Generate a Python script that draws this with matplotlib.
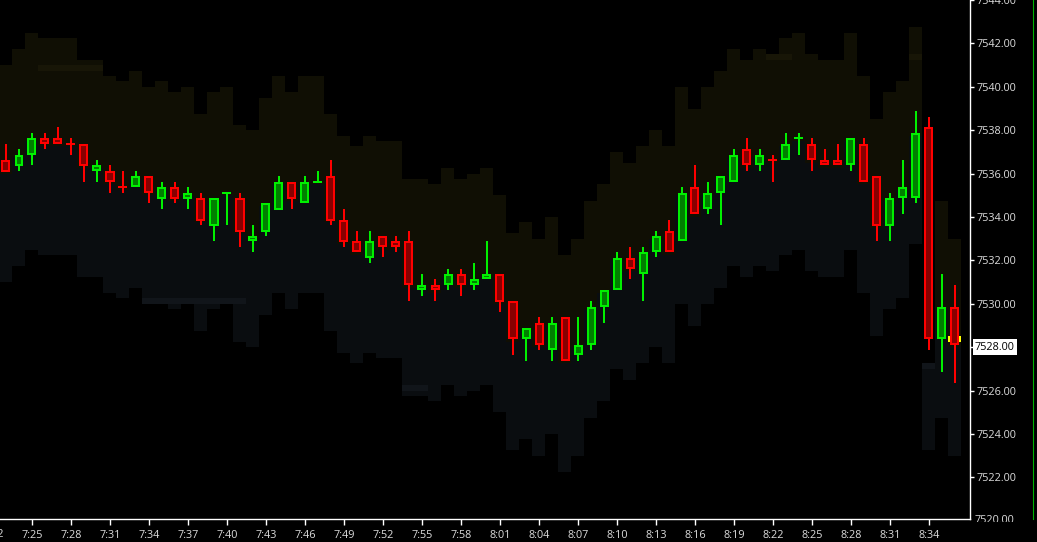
import numpy as np
import pandas as pd
import matplotlib
matplotlib.use("Agg")
import matplotlib.pyplot as plt
from matplotlib.lines import Line2D
from matplotlib.ticker import FormatStrFormatter
from matplotlib.transforms import Bbox, TransformedBbox

plt.rcParams['font.family'] = ['Open Sans', 'DejaVu Sans']

# ---------------- data ----------------
start_time = "2000-01-01 07:23"

opens = [
    7536.63, 7536.36, 7536.84, 7537.63, 7537.63, 7537.35, 7537.35, 7536.11, 7536.11, 7535.37,
    7535.37, 7535.88, 7534.84, 7535.37, 7534.84, 7534.86, 7533.60, 7535.09, 7534.86, 7532.88,
    7533.32, 7534.34, 7535.60, 7534.63, 7535.60, 7535.88, 7533.86, 7532.88, 7532.10, 7533.11,
    7532.88, 7532.88, 7530.62, 7530.85, 7530.85, 7531.36, 7530.85, 7531.13, 7531.36, 7530.12,
    7528.36, 7529.10, 7527.86, 7529.38, 7527.63, 7528.09, 7529.84, 7530.62, 7532.10, 7531.36,
    7532.37, 7533.34, 7532.88, 7535.37, 7534.35, 7535.09, 7535.60, 7537.12, 7536.38, 7536.61,
    7536.61, 7537.63, 7537.35, 7536.61, 7536.61, 7536.38, 7537.35, 7535.88, 7533.60, 7534.86,
    7534.86, 7538.13, 7528.36, 7529.84]

highs = [
    7537.36, 7537.12, 7537.86, 7537.86, 7538.15, 7537.63, 7537.35, 7536.63, 7536.38, 7536.11,
    7536.11, 7535.88, 7535.60, 7535.60, 7535.37, 7535.09, 7534.86, 7535.09, 7535.09, 7533.62,
    7534.63, 7535.89, 7535.60, 7535.89, 7536.12, 7536.63, 7534.37, 7533.35, 7533.35, 7533.11,
    7533.11, 7533.35, 7531.37, 7531.13, 7531.60, 7531.60, 7531.88, 7532.89, 7531.36, 7530.12,
    7528.87, 7529.39, 7529.39, 7529.38, 7529.39, 7530.13, 7530.62, 7532.39, 7532.62, 7532.62,
    7533.35, 7533.86, 7535.38, 7536.40, 7535.60, 7535.88, 7537.12, 7537.64, 7537.12, 7536.84,
    7537.86, 7537.86, 7537.63, 7537.12, 7537.35, 7537.63, 7537.63, 7535.88, 7535.09, 7536.63,
    7538.88, 7538.61, 7531.37, 7530.87]

lows = [
    7536.09, 7536.13, 7536.41, 7537.15, 7537.35, 7536.87, 7535.63, 7535.63, 7535.12, 7535.12,
    7535.37, 7534.66, 7534.38, 7534.66, 7534.38, 7533.65, 7532.91, 7533.65, 7532.63, 7532.40,
    7533.12, 7534.34, 7534.38, 7534.63, 7535.60, 7533.65, 7532.63, 7532.37, 7531.89, 7532.14,
    7532.40, 7530.13, 7530.37, 7530.13, 7530.65, 7530.37, 7530.65, 7531.13, 7529.64, 7527.65,
    7527.38, 7527.88, 7527.38, 7527.35, 7527.38, 7527.88, 7529.13, 7530.62, 7531.16, 7530.13,
    7532.14, 7532.37, 7532.88, 7534.12, 7534.15, 7533.65, 7535.60, 7536.13, 7536.13, 7535.63,
    7536.61, 7536.87, 7536.13, 7536.38, 7536.38, 7536.13, 7535.60, 7532.91, 7532.91, 7534.15,
    7534.66, 7527.87, 7526.87, 7526.36]

closes = [
    7536.09, 7536.84, 7537.63, 7537.35, 7537.35, 7537.35, 7536.36, 7536.38, 7535.60, 7535.37,
    7535.88, 7535.09, 7535.37, 7534.84, 7535.09, 7533.83, 7534.86, 7535.09, 7533.32, 7533.11,
    7534.63, 7535.60, 7534.84, 7535.60, 7535.60, 7533.83, 7532.86, 7532.37, 7532.88, 7532.60,
    7532.60, 7530.85, 7530.85, 7530.62, 7531.36, 7530.85, 7531.13, 7531.36, 7530.10, 7528.36,
    7528.87, 7528.09, 7529.10, 7527.35, 7528.09, 7529.84, 7530.62, 7532.10, 7531.59, 7532.37,
    7533.11, 7532.37, 7535.09, 7534.12, 7535.09, 7535.88, 7536.84, 7536.38, 7536.84, 7536.61,
    7537.35, 7537.63, 7536.61, 7536.38, 7536.38, 7537.63, 7535.60, 7533.60, 7534.86, 7535.37,
    7537.86, 7528.36, 7529.84, 7528.09]

# doji bars (open == close) that are drawn in the up colour
doji_up = [17, 24, 61]

band_top = [
    7541.0, 7541.75, 7542.5, 7542.25, 7542.25, 7542.25, 7541.25, 7541.25, 7540.5, 7540.25,
    7540.75, 7540.0, 7540.25, 7539.75, 7540.0, 7538.75, 7539.75, 7540.0, 7538.25, 7538.0,
    7539.5, 7540.5, 7539.75, 7540.5, 7540.5, 7538.75, 7537.75, 7537.25, 7537.75, 7537.5,
    7537.5, 7535.75, 7535.75, 7535.5, 7536.25, 7535.75, 7536.0, 7536.25, 7535.0, 7533.25,
    7533.75, 7533.0, 7534.0, 7532.25, 7533.0, 7534.75, 7535.5, 7537.0, 7536.5, 7537.25,
    7538.0, 7537.25, 7540.0, 7539.0, 7540.0, 7540.75, 7541.75, 7541.25, 7541.75, 7541.5,
    7542.25, 7542.5, 7541.5, 7541.25, 7541.25, 7542.5, 7540.5, 7538.5, 7539.75, 7540.25,
    7542.75, 7527.25, 7534.75, 7533.0]

band_mid = [
    7536.0, 7536.75, 7537.5, 7537.25, 7537.25, 7537.25, 7536.25, 7536.25, 7535.5, 7535.25,
    7535.75, 7535.0, 7535.25, 7534.75, 7535.0, 7533.75, 7534.75, 7535.0, 7533.25, 7533.0,
    7534.5, 7535.5, 7534.75, 7535.5, 7535.5, 7533.75, 7532.75, 7532.25, 7532.75, 7532.5,
    7532.5, 7530.75, 7530.75, 7530.5, 7531.25, 7530.75, 7531.0, 7531.25, 7530.0, 7528.25,
    7528.75, 7528.0, 7529.0, 7527.25, 7528.0, 7529.75, 7530.5, 7532.0, 7531.5, 7532.25,
    7533.0, 7532.25, 7535.0, 7534.0, 7535.0, 7535.75, 7536.75, 7536.25, 7536.75, 7536.5,
    7537.25, 7537.5, 7536.5, 7536.25, 7536.25, 7537.5, 7535.5, 7533.5, 7534.75, 7535.25,
    7537.75, 7527.25, 7529.75, 7528.0]

band_bot = [
    7531.0, 7531.75, 7532.5, 7532.25, 7532.25, 7532.25, 7531.25, 7531.25, 7530.5, 7530.25,
    7530.75, 7530.0, 7530.25, 7529.75, 7530.0, 7528.75, 7529.75, 7530.0, 7528.25, 7528.0,
    7529.5, 7530.5, 7529.75, 7530.5, 7530.5, 7528.75, 7527.75, 7527.25, 7527.75, 7527.5,
    7527.5, 7525.75, 7525.75, 7525.5, 7526.25, 7525.75, 7526.0, 7526.25, 7525.0, 7523.25,
    7523.75, 7523.0, 7524.0, 7522.25, 7523.0, 7524.75, 7525.5, 7527.0, 7526.5, 7527.25,
    7528.0, 7527.25, 7530.0, 7529.0, 7530.0, 7530.75, 7531.75, 7531.25, 7531.75, 7531.5,
    7532.25, 7532.5, 7531.5, 7531.25, 7531.25, 7532.5, 7530.5, 7528.5, 7529.75, 7530.25,
    7532.75, 7523.25, 7524.75, 7523.0]

# faint overlapping level strips: (first bar, last bar, low, high, zone)
strips = [
    (3, 7, 7540.75, 7541.0, "upper"),
    (11, 18, 7530.0, 7530.25, "lower"),
    (31, 32, 7526.0, 7526.25, "lower"),
    (59, 60, 7541.25, 7541.5, "upper"),
    (70, 70, 7541.25, 7541.5, "upper"),
    (71, 71, 7527.0, 7527.25, "lower"),
]

marker_bar = 73
marker_low, marker_high = 7528.25, 7528.5
last_price = 7528.00

y_ticks = [7520, 7522, 7524, 7526, 7528, 7530, 7532, 7534, 7536, 7538, 7540, 7542, 7544]
x_tick_labels = ["7:25", "7:28", "7:31", "7:34", "7:37", "7:40", "7:43", "7:46", "7:49",
                 "7:52", "7:55", "7:58", "8:01", "8:04", "8:07", "8:10", "8:13", "8:16",
                 "8:19", "8:22", "8:25", "8:28", "8:31", "8:34"]
cut_x_label = "7:22"

# ---------------- style ----------------
BG = "#000000"
UPPER = "#100f04"
LOWER = "#0a0d10"
UPPER_HI = "#181607"
LOWER_HI = "#11151a"
UP_EDGE, UP_FILL = "#00f000", "#007f00"
DN_EDGE, DN_FILL = "#ff0000", "#870000"
TXT = "#dcdcdc"
FS = 7.8

W, H, DPI = 1037, 542, 100
PLOT_R, PLOT_B = 970, 519
BAR_PX = 13.0
PX_PER_PT = 21.7
Y_TOP = 7544.0

fig = plt.figure(figsize=(W / DPI, H / DPI), dpi=DPI, facecolor=BG)
ax = fig.add_axes([0, 1 - PLOT_B / H, PLOT_R / W, PLOT_B / H])
ax.set_facecolor(BG)

n = len(opens)
x = np.arange(n)
o = np.array(opens); c = np.array(closes); hi = np.array(highs); lo = np.array(lows)
bt = np.array(band_top); bm = np.array(band_mid); bb = np.array(band_bot)

ax.set_xlim(-6 / BAR_PX, (PLOT_R - 6) / BAR_PX)
ax.set_ylim(Y_TOP - PLOT_B / PX_PER_PT, Y_TOP)

# bands
ax.bar(x, bt - bm, bottom=bm, width=1.0, color=UPPER, linewidth=0, antialiased=False, zorder=1)
ax.bar(x, bm - bb, bottom=bb, width=1.0, color=LOWER, linewidth=0, antialiased=False, zorder=1)
for s0, s1, l, h, zone in strips:
    ax.bar((s0 + s1) / 2, h - l, bottom=l, width=s1 - s0 + 1,
           color=UPPER_HI if zone == "upper" else LOWER_HI, linewidth=0,
           antialiased=False, zorder=1.5)

# current price marker
ax.bar(marker_bar, marker_high - marker_low, bottom=marker_low, width=1.0,
       color="#ffff00", linewidth=0, antialiased=False, zorder=2)

# candles
up = c > o
is_doji = np.isclose(o, c)
for i in doji_up:
    up[i] = True
edge = np.where(up, UP_EDGE, DN_EDGE)
fill = np.where(up, UP_FILL, DN_FILL)

lw_pt = 1.44
inset = 1.0 / PX_PER_PT
ax.vlines(x, lo, hi, colors=edge, linewidth=lw_pt, zorder=3)

nd = ~is_doji
b_lo = np.minimum(o, c)[nd] + inset
b_hi = np.maximum(o, c)[nd] - inset
b_hi = np.maximum(b_hi, b_lo)
ax.bar(x[nd], b_hi - b_lo, bottom=b_lo, width=7 / BAR_PX, color=fill[nd],
       edgecolor=edge[nd], linewidth=lw_pt, zorder=4)
ax.hlines(o[is_doji], x[is_doji] - 4.5 / BAR_PX, x[is_doji] + 4.5 / BAR_PX,
          colors=edge[is_doji], linewidth=lw_pt, zorder=4)

# axes styling
for side in ("left", "top"):
    ax.spines[side].set_visible(False)
for side in ("right", "bottom"):
    ax.spines[side].set_color("white")
    ax.spines[side].set_linewidth(1.0)

y_lo = Y_TOP - PLOT_B / PX_PER_PT
ax.yaxis.tick_right()
ax.set_yticks([t for t in y_ticks if t > y_lo])
ax.yaxis.set_major_formatter(FormatStrFormatter("%.2f"))
ax.tick_params(axis="y", colors="white", labelcolor=TXT, length=3, width=1, pad=1.5, labelsize=FS)

times = pd.date_range(start_time, periods=n, freq="min")
time_str = [f"{t.hour}:{t.minute:02d}" for t in times]
xt = [time_str.index(lbl) for lbl in x_tick_labels]
ax.set_xticks(xt)
ax.set_xticklabels(x_tick_labels)
ax.tick_params(axis="x", colors="white", labelcolor=TXT, length=4, width=1, pad=4, labelsize=FS)

# partially visible label on the left edge
cut_pos = time_str.index("7:23") - 1
ax.annotate(cut_x_label, xy=(cut_pos, 0), xycoords=("data", "axes fraction"),
            xytext=(0, -(4 * 0.72 + 4)), textcoords="offset points",
            ha="center", va="top", color=TXT, fontsize=FS, annotation_clip=False)

# partially hidden lowest price label (below the plot edge)
for t in y_ticks:
    if t <= y_lo:
        tl = ax.annotate("%.2f" % t, xy=(1, t), xycoords=("axes fraction", "data"),
                         xytext=(3.6, 0), textcoords="offset points", ha="left", va="center",
                         color=TXT, fontsize=FS, annotation_clip=False)
        tl.set_clip_on(True)
        tl.set_clip_box(TransformedBbox(Bbox([[0, 1 - 522 / H], [1, 1]]), fig.transFigure))

# last price box
ax.annotate("%.2f" % last_price, xy=(1, last_price), xycoords=("axes fraction", "data"),
            xytext=(3.6, 0), textcoords="offset points", ha="left", va="center",
            color="black", fontsize=FS, annotation_clip=False, zorder=10,
            bbox=dict(boxstyle="square,pad=0.22", fc="white", ec="none"))

# green marker line at right edge
fig.add_artist(Line2D([1032.5 / W, 1032.5 / W], [1 - PLOT_B / H, 1], transform=fig.transFigure,
                      color="#00b400", linewidth=0.8))

fig.savefig("out.png", dpi=DPI, facecolor=BG)
